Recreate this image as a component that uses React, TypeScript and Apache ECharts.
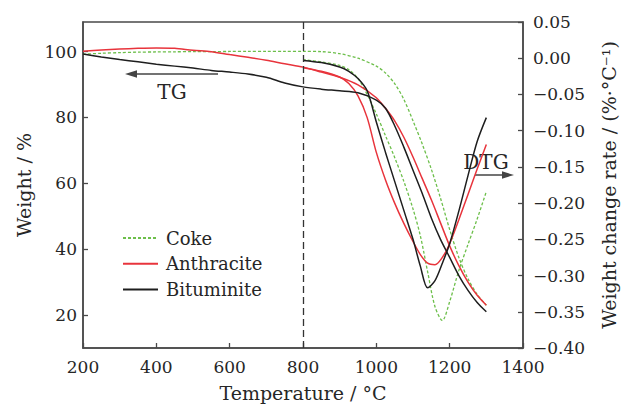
import React, { useEffect, useRef } from 'react';
import * as echarts from 'echarts';

// ---- data ----
const tgTemps = [200, 250, 300, 350, 400, 450, 500, 550, 600, 650, 700, 750, 800, 850, 900, 950, 1000, 1025, 1050, 1075, 1100, 1125, 1150, 1175, 1200, 1225, 1250, 1275, 1300];
const tgCoke = [99.2, 99.5, 99.7, 99.85, 99.9, 99.95, 100, 100, 100.05, 100.05, 100.1, 100.1, 100.1, 100, 99.4, 98, 95.6, 93.5, 90.3, 85.5, 79, 72, 64.3, 55.5, 46, 37.5, 31, 26.3, 23];
const tgAnthracite = [100.1, 100.5, 100.8, 101, 101.1, 101, 100.4, 100, 99.1, 98.3, 97.4, 96.3, 95.3, 93.8, 92.2, 89.9, 86, 82.8, 79, 74, 68, 61.5, 55, 48, 41, 35, 30, 26, 23];
const tgBituminite = [99.3, 98.4, 97.6, 96.9, 96.2, 95.6, 95, 94.3, 93.8, 93.2, 92.2, 90.5, 89.3, 88.6, 88.1, 87.5, 85.3, 82.8, 77.5, 71, 64, 57, 49.5, 43, 37.5, 32, 27.5, 23.8, 21];

const dtgTemps = [800, 850, 900, 925, 950, 975, 1000, 1025, 1050, 1075, 1100, 1120, 1140, 1160, 1180, 1200, 1225, 1250, 1275, 1300];
const dtgCoke = [-0.002, -0.005, -0.01, -0.016, -0.028, -0.05, -0.077, -0.107, -0.137, -0.17, -0.208, -0.245, -0.295, -0.343, -0.362, -0.336, -0.293, -0.257, -0.222, -0.184];
const dtgAnthracite = [-0.013, -0.018, -0.026, -0.035, -0.052, -0.082, -0.13, -0.168, -0.2, -0.228, -0.253, -0.271, -0.283, -0.285, -0.275, -0.256, -0.223, -0.188, -0.153, -0.119];
const dtgBituminite = [-0.003, -0.006, -0.012, -0.018, -0.028, -0.045, -0.088, -0.13, -0.17, -0.21, -0.25, -0.287, -0.317, -0.307, -0.283, -0.256, -0.211, -0.162, -0.115, -0.082];

const seriesNames = ['Coke', 'Anthracite', 'Bituminite'];
const leftTickValues = [20, 40, 60, 80, 100];
const dividerTemp = 800;

const FONT = 'DejaVu Serif';
const COLORS = { Coke: '#6dbf4b', Anthracite: '#e8343c', Bituminite: '#1e1e1e' };
const AXIS_COLOR = '#4a4a4a';
const TEXT_COLOR = '#262626';

const pairs = (xs: number[], ys: number[]) => xs.map((x, i) => [x, ys[i]]);

function lineSeries(name: string, data: number[][], yAxisIndex: number, extra: any = {}) {
  const isCoke = name === 'Coke';
  return {
    type: 'line',
    name,
    yAxisIndex,
    data,
    smooth: 0.3,
    symbol: 'none',
    showSymbol: false,
    lineStyle: {
      color: (COLORS as any)[name],
      width: isCoke ? 1.3 : 1.5,
      type: isCoke ? [3, 2] : 'solid',
    },
    itemStyle: { color: (COLORS as any)[name] },
    emphasis: { disabled: true },
    ...extra,
  };
}

export default function App() {
  const ref = useRef<HTMLDivElement>(null);

  useEffect(() => {
    if (!ref.current) return;
    const chart = echarts.init(ref.current, undefined, { renderer: 'svg' });

    const option: any = {
      animation: false,
      backgroundColor: '#ffffff',
      grid: {
        left: 83,
        right: 103,
        top: 22,
        bottom: 58,
        show: true,
        borderColor: AXIS_COLOR,
        borderWidth: 1.5,
        backgroundColor: 'transparent',
      },
      legend: {
        orient: 'vertical',
        left: 122,
        top: 229,
        padding: 0,
        itemWidth: 35,
        itemHeight: 14,
        itemGap: 7.7,
        data: seriesNames,
        itemStyle: { opacity: 0 },
        textStyle: { fontFamily: FONT, fontSize: 18, color: TEXT_COLOR, padding: [0, 0, 0, 3] },
      },
      xAxis: {
        type: 'value',
        min: 200,
        max: 1400,
        interval: 200,
        name: 'Temperature / °C',
        nameLocation: 'middle',
        nameGap: 35,
        nameTextStyle: { fontFamily: FONT, fontSize: 19, color: TEXT_COLOR },
        axisLine: { show: true, onZero: false, lineStyle: { color: AXIS_COLOR, width: 1.5 } },
        axisTick: { show: true, inside: true, length: 5, lineStyle: { color: AXIS_COLOR, width: 1.3 } },
        axisLabel: { fontFamily: FONT, fontSize: 17, color: TEXT_COLOR, margin: 10, formatter: (v: number) => String(v) },
        splitLine: { show: false },
      },
      yAxis: [
        {
          type: 'value',
          position: 'left',
          min: 10,
          max: 109,
          name: 'Weight / %',
          nameLocation: 'middle',
          nameRotate: 90,
          nameGap: 49,
          nameTextStyle: { fontFamily: FONT, fontSize: 19, color: TEXT_COLOR },
          axisLine: { show: true, onZero: false, lineStyle: { color: AXIS_COLOR, width: 1.5 } },
          axisTick: { show: true, inside: true, length: 5, customValues: leftTickValues, lineStyle: { color: AXIS_COLOR, width: 1.3 } },
          axisLabel: { fontFamily: FONT, fontSize: 17, color: TEXT_COLOR, margin: 6, customValues: leftTickValues },
          splitLine: { show: false },
        },
        {
          type: 'value',
          position: 'right',
          min: -0.4,
          max: 0.05,
          interval: 0.05,
          name: 'Weight change rate / (%·°C⁻¹)',
          nameLocation: 'middle',
          nameRotate: 90,
          nameGap: 76,
          nameTextStyle: { fontFamily: FONT, fontSize: 19, color: TEXT_COLOR },
          axisLine: { show: true, onZero: false, lineStyle: { color: AXIS_COLOR, width: 1.5 } },
          axisTick: { show: true, inside: true, length: 5, lineStyle: { color: AXIS_COLOR, width: 1.3 } },
          axisLabel: {
            fontFamily: FONT,
            fontSize: 17,
            color: TEXT_COLOR,
            margin: 10,
            formatter: (v: number) => (v < -1e-9 ? '\u2212' : '') + Math.abs(v).toFixed(2),
          },
          splitLine: { show: false },
        },
      ],
      series: [
        lineSeries('Coke', pairs(tgTemps, tgCoke), 0),
        lineSeries('Coke', pairs(dtgTemps, dtgCoke), 1),
        lineSeries('Anthracite', pairs(tgTemps, tgAnthracite), 0),
        lineSeries('Anthracite', pairs(dtgTemps, dtgAnthracite), 1),
        lineSeries('Bituminite', pairs(tgTemps, tgBituminite), 0, {
          markLine: {
            silent: true,
            symbol: 'none',
            label: { show: false },
            lineStyle: { color: '#333333', width: 1.3, type: [7, 4] },
            data: [{ xAxis: dividerTemp }],
          },
        }),
        lineSeries('Bituminite', pairs(dtgTemps, dtgBituminite), 1),
      ],
      graphic: [
        { type: 'line', shape: { x1: 218, y1: 74, x2: 134, y2: 74 }, style: { stroke: '#444', lineWidth: 1.5 } },
        { type: 'polygon', shape: { points: [[125, 74], [137, 70.3], [137, 77.7]] }, style: { fill: '#444' } },
        { type: 'text', x: 172, y: 92, style: { text: 'TG', fontFamily: FONT, fontSize: 20, fill: TEXT_COLOR, align: 'center', verticalAlign: 'middle' } },
        { type: 'text', x: 486, y: 162, style: { text: 'DTG', fontFamily: FONT, fontSize: 20, fill: TEXT_COLOR, align: 'center', verticalAlign: 'middle' } },
        { type: 'line', shape: { x1: 475, y1: 175, x2: 505, y2: 175 }, style: { stroke: '#444', lineWidth: 1.5 } },
        { type: 'polygon', shape: { points: [[514, 175], [502, 171.3], [502, 178.7]] }, style: { fill: '#444' } },
      ],
    };

    chart.setOption(option);
    return () => chart.dispose();
  }, []);

  return (
    <div
      ref={ref}
      style={{ position: 'fixed', left: 0, top: 0, width: 626, height: 407, background: '#fff' }}
    />
  );
}
